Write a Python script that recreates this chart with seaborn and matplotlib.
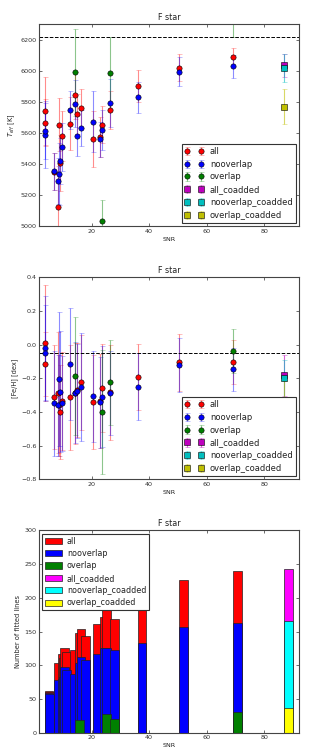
import numpy as np
import matplotlib
matplotlib.use("Agg")
import matplotlib.pyplot as plt
import seaborn as sns

nan = np.nan

# individual spectra
snr = [3.7, 3.9, 6.9, 8.4, 8.7, 9.0, 9.9, 12.4, 14.3, 14.9, 16.5, 20.4, 23.1, 23.7, 26.4, 36.0, 50.5, 69.3]

teff_all = [5740, 5666, 5352, 5125, 5653, 5407, 5580, 5660, 5843, 5724, 5760, 5559, 5574, 5653, 5749, 5903, 6020, 6087]
teff_all_err = [220, 150, 118, 260, 170, 180, 160, 170, 150, 130, 125, 180, 130, 120, 120, 103, 88, 63]
teff_noov = [5589, 5610, 5354, 5292, 5335, 5420, 5510, 5749, 5788, 5583, 5632, 5674, 5559, 5621, 5792, 5830, 5995, 6029]
teff_noov_err = [215, 180, 118, 150, 200, 150, 155, 120, 150, 130, 115, 195, 115, 130, 155, 100, 95, 75]
teff_ov = [nan, nan, nan, nan, nan, nan, nan, nan, 5990, nan, nan, nan, nan, 5033, 5986, nan, nan, 6390]
teff_ov_err = [nan, nan, nan, nan, nan, nan, nan, nan, 280, nan, nan, nan, nan, 135, 230, nan, nan, 175]

feh_all = [0.012, -0.117, -0.309, -0.286, -0.36, -0.399, -0.335, -0.313, -0.289, -0.27, -0.224, -0.341, -0.335, -0.256, -0.283, -0.19, -0.105, -0.103]
feh_all_err = [0.345, 0.19, 0.31, 0.36, 0.3, 0.28, 0.29, 0.31, 0.3, 0.28, 0.28, 0.28, 0.28, 0.26, 0.28, 0.195, 0.17, 0.13]
feh_noov = [-0.018, -0.048, -0.349, -0.359, -0.204, -0.28, -0.349, -0.117, -0.286, -0.274, -0.25, -0.305, -0.341, -0.309, -0.289, -0.25, -0.123, -0.147]
feh_noov_err = [0.31, 0.285, 0.31, 0.30, 0.40, 0.36, 0.28, 0.333, 0.30, 0.28, 0.32, 0.27, 0.27, 0.30, 0.25, 0.20, 0.16, 0.13]
feh_ov = [nan, nan, nan, nan, nan, nan, nan, nan, -0.186, nan, nan, nan, nan, -0.40, -0.224, nan, nan, -0.036]
feh_ov_err = [nan, nan, nan, nan, nan, nan, nan, nan, 0.35, nan, nan, nan, nan, 0.37, 0.25, nan, nan, 0.13]

nlines_all = [61, 60, 104, 117, 110, 125, 120, 123, 148, 154, 144, 161, 172, 186, 169, 185, 227, 240]
nlines_noov = [58, 57, 78, 80, 82, 97, 93, 87, 103, 112, 107, 117, 126, 126, 123, 133, 157, 163]
nlines_ov = [nan, nan, nan, nan, nan, nan, nan, nan, 19, nan, nan, nan, nan, 27, 20, nan, nan, 31]

# coadded spectrum
snr_co = [87.0]
teff_co = {"all": (6035, 75), "nooverlap": (6020, 90), "overlap": (5770, 110)}
feh_co = {"all": (-0.182, 0.12), "nooverlap": (-0.2, 0.11), "overlap": (-0.333, 0.12)}
nlines_co = {"all": 243, "nooverlap": 165, "overlap": 36}

teff_sun_ref = 6220
feh_ref = -0.05

sns.set_theme(style="ticks")
plt.rcParams.update({
    "font.family": ["DejaVu Sans"],
    "xtick.direction": "in", "ytick.direction": "in",
    "xtick.top": True, "ytick.right": True,
    "xtick.labelsize": 4.6, "ytick.labelsize": 4.6,
    "xtick.major.size": 2.5, "ytick.major.size": 2.5,
    "xtick.major.width": 0.5, "ytick.major.width": 0.5,
    "axes.edgecolor": "#444444", "axes.linewidth": 0.8,
    "text.color": "#222222", "xtick.color": "#333333", "ytick.color": "#333333",
    "axes.labelcolor": "#222222",
})

pt_colors = {"all": "red", "nooverlap": "blue", "overlap": (0, 0.5, 0)}
co_colors = {"all": (0.75, 0, 0.75), "nooverlap": (0, 0.75, 0.75), "overlap": (0.75, 0.75, 0)}
bar_colors = {"all": "red", "nooverlap": "blue", "overlap": (0, 0.5, 0)}
bar_co_colors = {"all": "magenta", "nooverlap": "cyan", "overlap": "yellow"}

fig, axes = plt.subplots(3, 1, figsize=(3.29, 7.56), dpi=100)
fig.subplots_adjust(left=0.119, right=0.910, top=0.968, bottom=0.031, hspace=0.2525)


def err_panel(ax, series, coadd, ref, ylim, yticks, ylabel):
    for name, (vals, errs) in series.items():
        ax.errorbar(snr, vals, yerr=errs, fmt="o", color=pt_colors[name], ms=3.8,
                    mec="black", mew=0.4, ecolor=matplotlib.colors.to_rgba(pt_colors[name], 0.45),
                    elinewidth=0.8, capsize=1.8, capthick=0.6, label=name)
    for name, (v, e) in coadd.items():
        ax.errorbar(snr_co, [v], yerr=[e], fmt="s", color=co_colors[name], ms=3.8,
                    mec="black", mew=0.4, ecolor=matplotlib.colors.to_rgba(co_colors[name], 0.6),
                    elinewidth=0.8, capsize=1.8, capthick=0.6, label=name + "_coadded")
    ax.axhline(ref, color="black", ls="--", lw=0.7)
    ax.set_xlim(1.8, 92.2)
    ax.set_ylim(*ylim)
    ax.set_yticks(yticks)
    ax.set_xticks([20, 40, 60, 80])
    ax.set_title("F star", fontsize=5.8, pad=3)
    ax.set_xlabel("SNR", fontsize=4.6, labelpad=2)
    ax.set_ylabel(ylabel, fontsize=4.8, labelpad=2)
    ax.tick_params(pad=2)
    leg = ax.legend(loc="lower right", numpoints=2, fontsize=6, fancybox=False,
                    framealpha=1, edgecolor="#333333", borderaxespad=0.4,
                    handlelength=2.2, labelspacing=0.45, borderpad=0.4)
    leg.get_frame().set_linewidth(0.8)


err_panel(axes[0],
          {"all": (teff_all, teff_all_err), "nooverlap": (teff_noov, teff_noov_err),
           "overlap": (teff_ov, teff_ov_err)},
          teff_co, teff_sun_ref, (5000, 6300), np.arange(5000, 6201, 200), r"$T_{eff}$ [K]")

err_panel(axes[1],
          {"all": (feh_all, feh_all_err), "nooverlap": (feh_noov, feh_noov_err),
           "overlap": (feh_ov, feh_ov_err)},
          feh_co, feh_ref, (-0.8, 0.4), np.round(np.arange(-0.8, 0.41, 0.2), 1), "[Fe/H] [dex]")

ax = axes[2]
for name, vals in [("all", nlines_all), ("nooverlap", nlines_noov), ("overlap", nlines_ov)]:
    ax.bar(snr, np.nan_to_num(vals), width=3, align="edge", color=bar_colors[name],
           edgecolor="#222222", linewidth=0.5, label=name)
for name in ["all", "nooverlap", "overlap"]:
    ax.bar(snr_co, [nlines_co[name]], width=3, align="edge", color=bar_co_colors[name],
           edgecolor="#222222", linewidth=0.5, label=name + "_coadded")
ax.set_xlim(1.8, 92.2)
ax.set_ylim(0, 300)
ax.set_yticks(np.arange(0, 301, 50))
ax.set_xticks([20, 40, 60, 80])
ax.set_title("F star", fontsize=5.8, pad=3)
ax.set_xlabel("SNR", fontsize=4.6, labelpad=2)
ax.set_ylabel("Number of fitted lines", fontsize=4.8, labelpad=2)
ax.tick_params(pad=2)
leg = ax.legend(loc="upper left", fontsize=5.8, fancybox=False, framealpha=1,
                edgecolor="#333333", borderaxespad=0.4, handlelength=2.1,
                handleheight=0.8, labelspacing=0.42, borderpad=0.35, handletextpad=0.6)
leg.get_frame().set_linewidth(0.8)

fig.savefig("out.png", dpi=100)
